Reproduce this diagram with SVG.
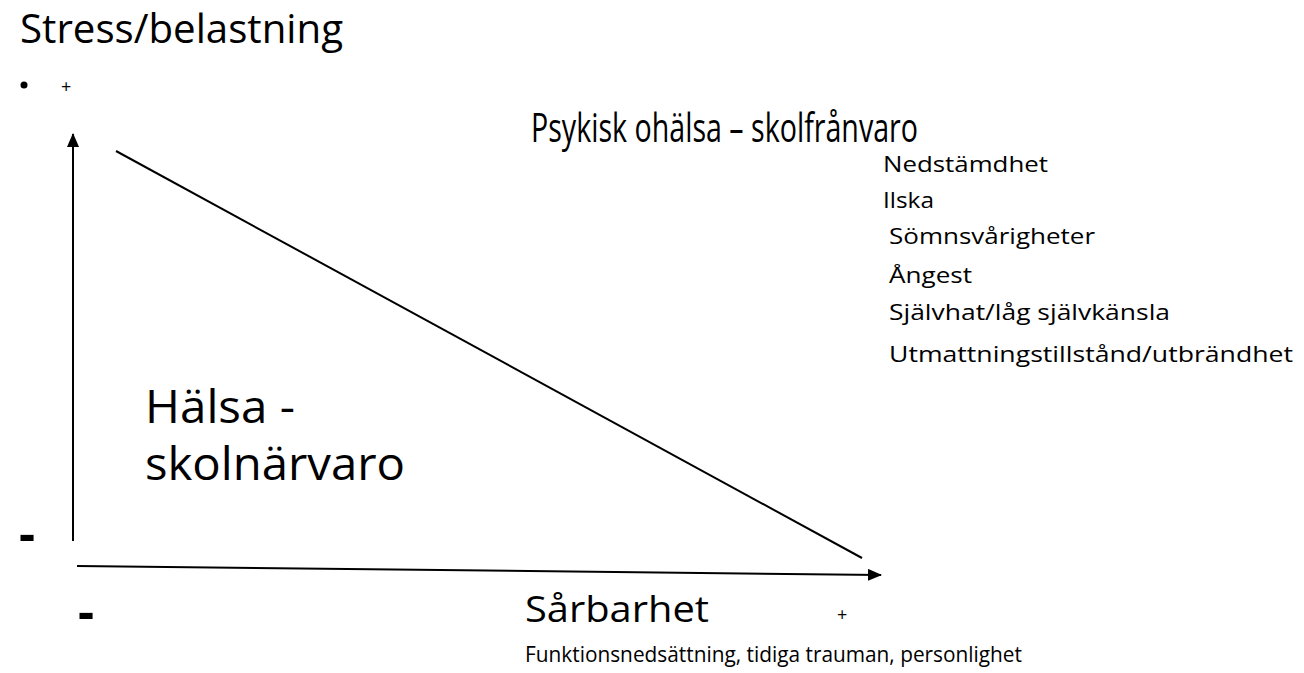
<svg xmlns="http://www.w3.org/2000/svg" width="1304" height="673" viewBox="0 0 1304 673">
<defs>
<style>
text{font-family:"Open Sans","Noto Sans","Liberation Sans",sans-serif;fill:#000}
.big{font-size:40px}
.mid{font-size:36px}
.huge{font-size:45px}
.sm{font-size:21px}
.tiny{font-size:18px}
.ln{stroke:#000;stroke-width:2;fill:none}
</style>
<marker id="ah" markerWidth="14" markerHeight="12" refX="13" refY="6" orient="auto" markerUnits="userSpaceOnUse">
<path d="M0,0 L14,6 L0,12 Z" fill="#000"/>
</marker>
</defs>
<rect width="1304" height="673" fill="#fff"/>
<g id="connectors">
<line class="ln" x1="73" y1="541" x2="73" y2="134" marker-end="url(#ah)"/>
<line class="ln" x1="77" y1="566" x2="881" y2="575" marker-end="url(#ah)"/>
<line class="ln" x1="116" y1="151" x2="862" y2="558"/>
</g>
<g id="y-axis-label">
<text class="big" x="20" y="43" textLength="323" lengthAdjust="spacingAndGlyphs">Stress/belastning</text>
<circle cx="24" cy="85" r="3.5" fill="#000"/>
<text class="tiny" x="61" y="93">+</text>
<text style="font-size:50px;font-weight:bold" x="19" y="551">-</text>
</g>
<g id="x-axis-label">
<text class="mid" x="525" y="622" textLength="184" lengthAdjust="spacingAndGlyphs">Sårbarhet</text>
<text class="tiny" x="837" y="621">+</text>
<text style="font-size:50px;font-weight:bold" x="78" y="629">-</text>
<text class="sm" x="525" y="662" textLength="497" lengthAdjust="spacingAndGlyphs">Funktionsnedsättning, tidiga trauman, personlighet</text>
</g>
<g id="psykisk-ohalsa">
<text class="big" x="531" y="142" textLength="387" lengthAdjust="spacingAndGlyphs">Psykisk ohälsa – skolfrånvaro</text>
<text class="sm" x="883" y="172" textLength="165" lengthAdjust="spacingAndGlyphs">Nedstämdhet</text>
<text class="sm" x="883" y="208" textLength="51" lengthAdjust="spacingAndGlyphs">Ilska</text>
<text class="sm" x="889" y="244" textLength="206" lengthAdjust="spacingAndGlyphs">Sömnsvårigheter</text>
<text class="sm" x="889" y="283" textLength="83" lengthAdjust="spacingAndGlyphs">Ångest</text>
<text class="sm" x="889" y="320" textLength="281" lengthAdjust="spacingAndGlyphs">Självhat/låg självkänsla</text>
<text class="sm" x="889" y="362" textLength="404" lengthAdjust="spacingAndGlyphs">Utmattningstillstånd/utbrändhet</text>
</g>
<g id="halsa">
<text class="huge" x="145" y="423" textLength="150" lengthAdjust="spacingAndGlyphs">Hälsa -</text>
<text class="huge" x="145" y="480" textLength="260" lengthAdjust="spacingAndGlyphs">skolnärvaro</text>
</g>
</svg>
